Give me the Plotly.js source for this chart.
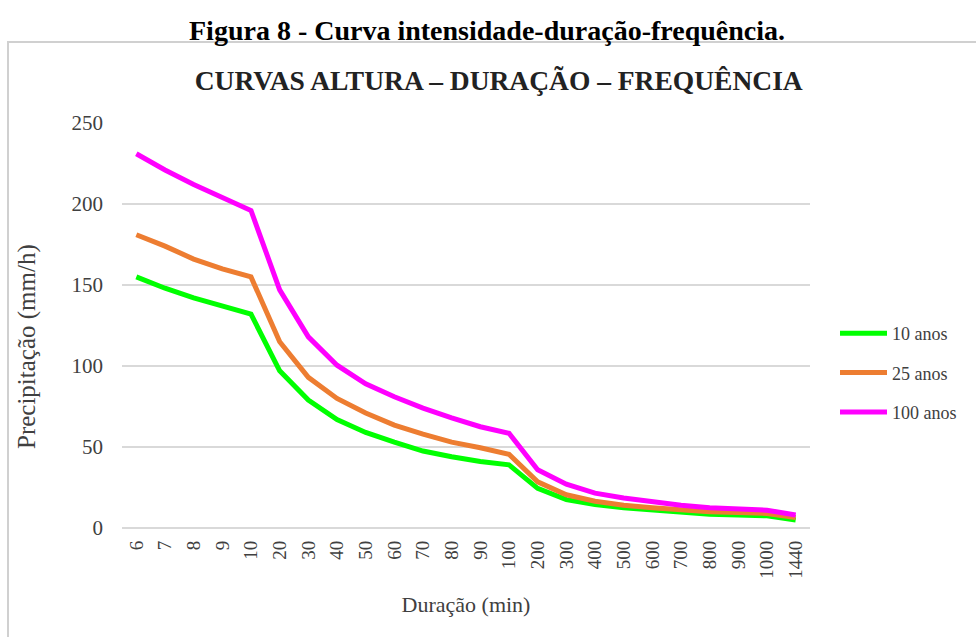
<!DOCTYPE html>
<html>
<head>
<meta charset="utf-8">
<script src="https://cdn.plot.ly/plotly-3.0.1.min.js"></script>
<style>html,body{margin:0;padding:0;background:#fff;}#chart{width:976px;height:637px;}</style>
</head>
<body>
<div id="chart"></div>
<script>
const durations = ["6","7","8","9","10","20","30","40","50","60","70","80","90","100","200","300","400","500","600","700","800","900","1000","1440"];
const anos10 = [155,148,142,137,132,97,79,67,59,53,47.5,44,41,39,24.5,17.5,14.5,12.5,11,9.5,8.5,8,7.5,5];
const anos25 = [181,174,166,160,155,115,93,80,71,63.5,58,53,49.5,45.5,28.5,20.5,16.5,14,12.5,11,10,9.5,9,6.5];
const anos100 = [231,221,212,204,196,147,118,100.5,89,81,74,68,62.5,58.5,36,27,21.5,18.5,16,14,12.5,11.7,11,8];
const seriesNames = ["10 anos","25 anos","100 anos"];
const seriesColors = ["#00ff00","#ed7d31","#ff00ff"];
const seriesValues = [anos10, anos25, anos100];

const serif = "Liberation Serif, Times New Roman, serif";
const traces = seriesValues.map((vals, i) => ({
  type: "scatter", mode: "lines", x: durations, y: vals, name: seriesNames[i],
  legendgroup: "g" + i,
  line: {color: seriesColors[i], width: 5}
}));

const layout = {
  width: 976, height: 637,
  margin: {l: 122, r: 166, t: 123, b: 109},
  paper_bgcolor: "#ffffff", plot_bgcolor: "#ffffff",
  font: {family: serif, color: "#404040"},
  showlegend: true,
  title: {text: "<b>CURVAS ALTURA – DURAÇÃO – FREQUÊNCIA</b>", font: {family: serif, size: 27.5, color: "#222"},
          x: 0.511, xref: "container", xanchor: "center", y: 1 - 80/637, yref: "container", yanchor: "middle"},
  legend: {x: (835-122)/688, xanchor: "left", y: (528-373)/405, yanchor: "middle", font: {family: serif, size: 18, color: "#404040"},
           traceorder: "grouped", tracegroupgap: 13, itemwidth: 47, bgcolor: "rgba(0,0,0,0)"},
  xaxis: {type: "category", range: [-0.5, 23.5], tickangle: -90, showgrid: false, showline: false, zeroline: false,
          ticks: "", ticklabelstandoff: 8, tickfont: {family: serif, size: 19, color: "#404040"}, fixedrange: true,
          title: {text: "Duração (min)", font: {family: serif, size: 22, color: "#404040"}, standoff: 18}},
  yaxis: {range: [0, 250], dtick: 50, showgrid: true, gridcolor: "#d9d9d9", gridwidth: 1.5, zeroline: true,
          zerolinecolor: "#d9d9d9", zerolinewidth: 1.5, showline: false, ticks: "", ticklabelstandoff: 18,
          tickfont: {family: serif, size: 21, color: "#404040"}, fixedrange: true},
  shapes: [{type: "rect", xref: "paper", yref: "paper", x0: (8-122)/688, x1: (990-122)/688, y0: (528-660)/405, y1: (528-42)/405,
            line: {color: "#d0d0d0", width: 2}, fillcolor: "rgba(0,0,0,0)", layer: "below"}],
  annotations: [
    {text: "<b>Figura 8 - Curva intensidade-duração-frequência.</b>", xref: "paper", yref: "paper",
     x: (487-122)/688, y: (528-31)/405, xanchor: "center", yanchor: "middle", showarrow: false,
     font: {family: serif, size: 28, color: "#000"}},
    {text: "Precipitação (mm/h)", xref: "paper", yref: "paper", textangle: -90,
     x: (27-122)/688, y: (528-347)/405, xanchor: "center", yanchor: "middle", showarrow: false,
     font: {family: serif, size: 25, color: "#404040"}}
  ]
};
Plotly.newPlot("chart", traces, layout, {displayModeBar: false, staticPlot: true});
</script>
</body>
</html>
